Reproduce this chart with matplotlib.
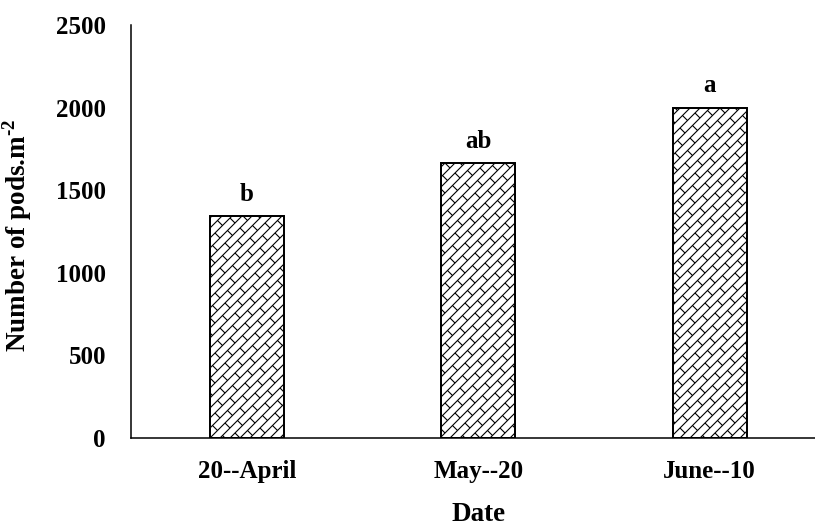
import matplotlib
matplotlib.use("Agg")
import matplotlib.pyplot as plt
from matplotlib.collections import LineCollection
from matplotlib.transforms import IdentityTransform

# data
dates = ["20--April", "May--20", "June--10"]
pods = [1345, 1665, 2000]
letters = ["b", "ab", "a"]

plt.rcParams['font.family'] = 'Liberation Serif'
plt.rcParams['font.weight'] = 'bold'
plt.rcParams['mathtext.fontset'] = 'custom'
plt.rcParams['mathtext.rm'] = 'Liberation Serif:bold'
plt.rcParams['mathtext.bf'] = 'Liberation Serif:bold'


def brick_hatch(ax, bar, s=10.0, L=15.0):
    # diagonal brick pattern drawn in pixels, clipped to the bar
    x0, y0 = ax.transData.transform((bar.get_x(), bar.get_y()))
    x1, y1 = ax.transData.transform((bar.get_x() + bar.get_width(), bar.get_y() + bar.get_height()))
    segs = []
    cmin = int((y0 - x1) // s) - 1
    cmax = int((y1 - x0) // s) + 2
    for k in range(cmin, cmax):
        c = k * s
        segs.append([(x0 - 20, x0 - 20 + c), (x1 + 20, x1 + 20 + c)])
        off = (k % 2) * L / 2 - k * s / 2
        xs = ((x0 - off) // L) * L + off - L
        while xs < x1 + L:
            segs.append([(xs, xs + c), (xs + s / 2, xs + c - s / 2)])
            xs += L
    lc = LineCollection(segs, colors='black', linewidths=0.8, transform=IdentityTransform(), zorder=2.5)
    ax.add_collection(lc, autolim=False)
    lc.set_clip_path(bar)


fig = plt.figure(figsize=(8.15, 5.28), dpi=100)
ax = fig.add_axes([131 / 815, 1 - 438 / 528, 694.5 / 815, 413 / 528])

xs = list(range(len(dates)))
ax.set_xlim(-0.5, 2.5)
ax.set_ylim(0, 2500)
bars = ax.bar(xs, pods, width=0.32, color='white', edgecolor='black', linewidth=1.3, zorder=2)
for b in bars:
    brick_hatch(ax, b)
# redraw outlines on top of the hatch
ax.bar(xs, pods, width=0.32, color='none', edgecolor='black', linewidth=1.3, zorder=3)

for i in range(len(dates)):
    ax.annotate(letters[i], (xs[i], pods[i]), xytext=(0, 11), textcoords='offset points',
                ha='center', va='baseline', fontsize=18, fontweight='bold')

ax.set_yticks([0, 500, 1000, 1500, 2000, 2500])
ax.set_xticks(xs)
ax.set_xticklabels(dates)
ax.tick_params(axis='both', length=0, labelsize=18)
ax.tick_params(axis='y', pad=18)
ax.tick_params(axis='x', pad=16)
for s in ['top', 'right']:
    ax.spines[s].set_visible(False)
for s in ['left', 'bottom']:
    ax.spines[s].set_linewidth(1.1)
    ax.spines[s].set_zorder(4)

ax.set_ylabel('Number of pods.m$^{\\text{-2}}$', fontsize=19.5, fontweight='bold')
ax.set_xlabel('Date', fontsize=19.5, fontweight='bold')
ax.xaxis.set_label_coords((479 - 131) / 694.5, -0.156)
ax.yaxis.set_label_coords(-0.14, 0.49)

fig.savefig('out.png', dpi=100)
